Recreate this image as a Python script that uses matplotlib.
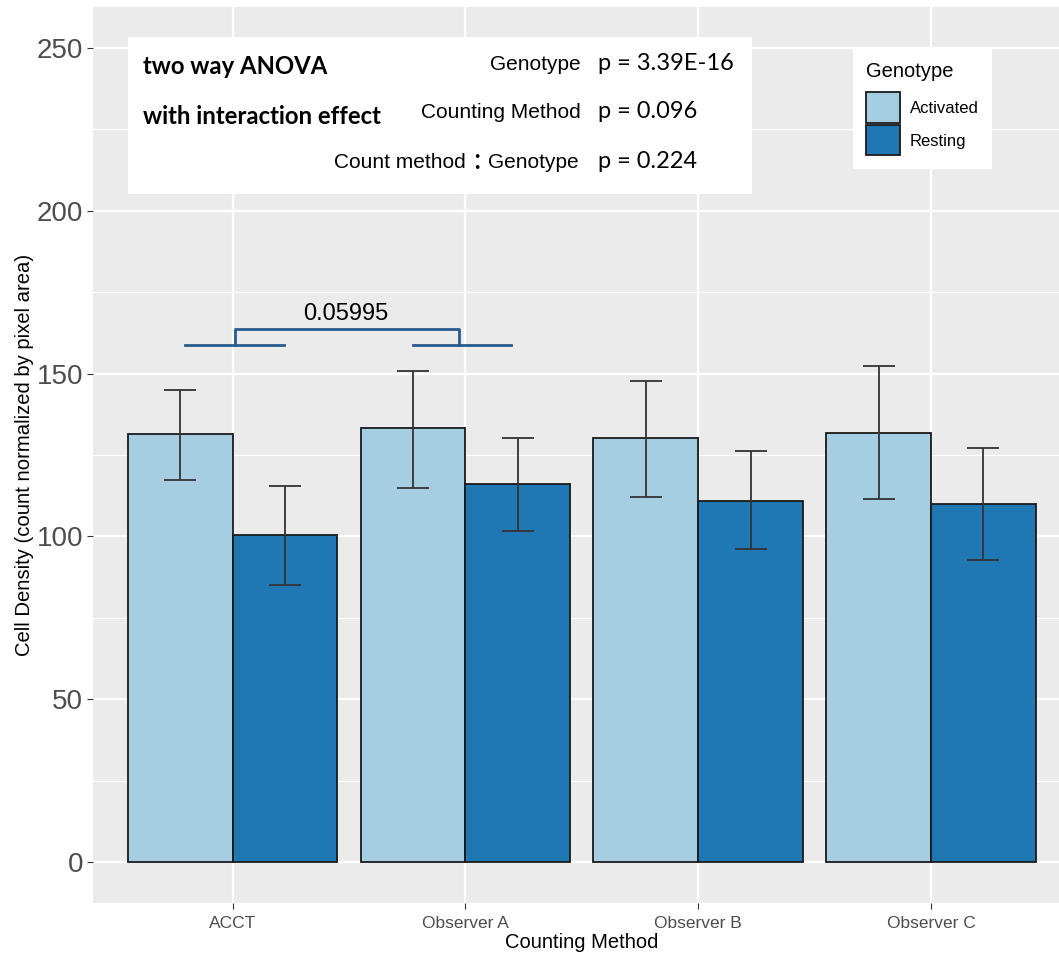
import matplotlib
matplotlib.use("Agg")
import matplotlib.pyplot as plt
from matplotlib.patches import Patch, Rectangle
import numpy as np

methods = ["ACCT", "Observer A", "Observer B", "Observer C"]
genotypes = ["Activated", "Resting"]
activated_mean = [131.4, 133.3, 130.1, 131.8]
activated_low = [117.2, 114.9, 112.0, 111.4]
activated_high = [145.1, 150.9, 147.7, 152.2]
resting_mean = [100.4, 116.0, 111.0, 110.1]
resting_low = [85.0, 101.8, 96.0, 92.8]
resting_high = [115.4, 130.2, 126.1, 127.0]

anova_terms = ["Genotype", "Counting Method", "Count method : Genotype"]
anova_p = ["p = 3.39E-16", "p = 0.096", "p = 0.224"]
bracket_label = "0.05995"

colors = ["#A6CEE3", "#1F78B4"]
W, H = 1059, 958


def fx(x):
    return x / W


def fy(y):
    return 1 - y / H


def main():
    fig = plt.figure(figsize=(W / 100, H / 100), dpi=100)
    # panel runs past the right edge, like the cropped original
    ax = fig.add_axes([fx(93), fy(903), (1070.6 - 93) / W, (903 - 7) / H])
    ax.set_facecolor("#EBEBEB")
    for s in ax.spines.values():
        s.set_visible(False)

    x = np.arange(len(methods))
    bw = 0.45
    series = [(activated_mean, activated_low, activated_high),
              (resting_mean, resting_low, resting_high)]
    for i, (m, lo, hi) in enumerate(series):
        pos = x + (i - 0.5) * bw
        m = np.array(m)
        ax.bar(pos, m, width=bw, color=colors[i], edgecolor="#1a1a1a",
               linewidth=1.3, zorder=3)
        err = [m - np.array(lo), np.array(hi) - m]
        ax.errorbar(pos, m, yerr=err, fmt="none", ecolor="#333333",
                    elinewidth=1.3, capsize=11.5, capthick=1.3, zorder=4)

    ax.set_xlim(-0.6, 3.6)
    ax.set_ylim(-12.5, 262.5)
    ax.set_yticks(np.arange(0, 251, 50))
    ax.set_yticks(np.arange(25, 251, 50), minor=True)
    ax.set_xticks(x)
    ax.set_xticklabels(methods)
    ax.grid(which="major", color="white", linewidth=1.6, zorder=0)
    ax.grid(which="minor", axis="y", color="white", linewidth=0.8, zorder=0)
    ax.set_axisbelow(True)
    ax.tick_params(axis="y", which="major", labelsize=20, labelcolor="#4D4D4D",
                   color="#333333", length=4, pad=3)
    ax.tick_params(axis="x", which="major", labelsize=12.5, labelcolor="#4D4D4D",
                   color="#333333", length=4, pad=5.5)
    ax.tick_params(which="minor", length=0)
    for lab in ax.get_xticklabels() + ax.get_yticklabels():
        lab.set_family("Liberation Sans")

    ax.set_xlabel("Counting Method", fontsize=14.5, family="Liberation Sans",
                  labelpad=1)
    ax.set_ylabel("Cell Density (count normalized by pixel area)", fontsize=14.6,
                  family="Liberation Sans", labelpad=2)

    # significance bracket
    bc = "#2B5A8C"
    ax.plot([-0.203, 0.219], [158.9, 158.9], color=bc, lw=2, zorder=5)
    ax.plot([0.774, 1.195], [158.9, 158.9], color=bc, lw=2, zorder=5)
    ax.plot([0.01, 0.01, 0.971, 0.971], [158.9, 163.8, 163.8, 158.9],
            color=bc, lw=2, zorder=5)
    ax.text(0.486, 165.0, bracket_label, ha="center", va="bottom", fontsize=17,
            family="Liberation Sans", zorder=5)

    # ANOVA box
    fig.patches.append(Rectangle((fx(128), fy(194)), (752 - 128) / W,
                                 (194 - 37) / H, transform=fig.transFigure,
                                 facecolor="white", edgecolor="none", zorder=5))
    fig.text(fx(143), fy(66), "two way ANOVA", fontsize=17.2, weight="bold",
             family="Lato", va="center", ha="left", zorder=6)
    fig.text(fx(143), fy(116), "with interaction effect", fontsize=17.2,
             weight="bold", family="Lato", va="center", ha="left", zorder=6)
    rows_y = [65, 112, 163]
    for term, p, yy in zip(anova_terms, anova_p, rows_y):
        if ":" in term:
            left, right = [t.strip() for t in term.split(":")]
            fig.text(fx(579), fy(yy), right, fontsize=15,
                     family="Liberation Sans", ha="right", va="center", zorder=6)
            fig.text(fx(477), fy(yy - 2), ":", fontsize=21, family="Lato",
                     ha="center", va="center", zorder=6)
            fig.text(fx(466), fy(yy), left, fontsize=15,
                     family="Liberation Sans", ha="right", va="center", zorder=6)
        else:
            fig.text(fx(581), fy(yy), term, fontsize=15,
                     family="Liberation Sans", ha="right", va="center", zorder=6)
        fig.text(fx(598), fy(yy - 1), p, fontsize=17, family="Lato",
                 ha="left", va="center", zorder=6)

    handles = [Patch(facecolor=c, edgecolor="#1a1a1a", linewidth=1.3)
               for c in colors]
    leg = fig.legend(handles, genotypes, title="Genotype", loc="upper left",
                     bbox_to_anchor=(fx(853), fy(49)), frameon=True,
                     fancybox=False, edgecolor="none", facecolor="white",
                     framealpha=1, prop={"family": "Liberation Sans", "size": 12},
                     title_fontproperties={"family": "Liberation Sans", "size": 14.5},
                     handlelength=2.0, handleheight=2.4, labelspacing=0.17,
                     handletextpad=0.6, borderpad=0.8, borderaxespad=0)
    leg._legend_box.align = "left"
    leg._legend_box.sep = 8

    fig.savefig("out.png", dpi=100)


if __name__ == "__main__":
    main()
